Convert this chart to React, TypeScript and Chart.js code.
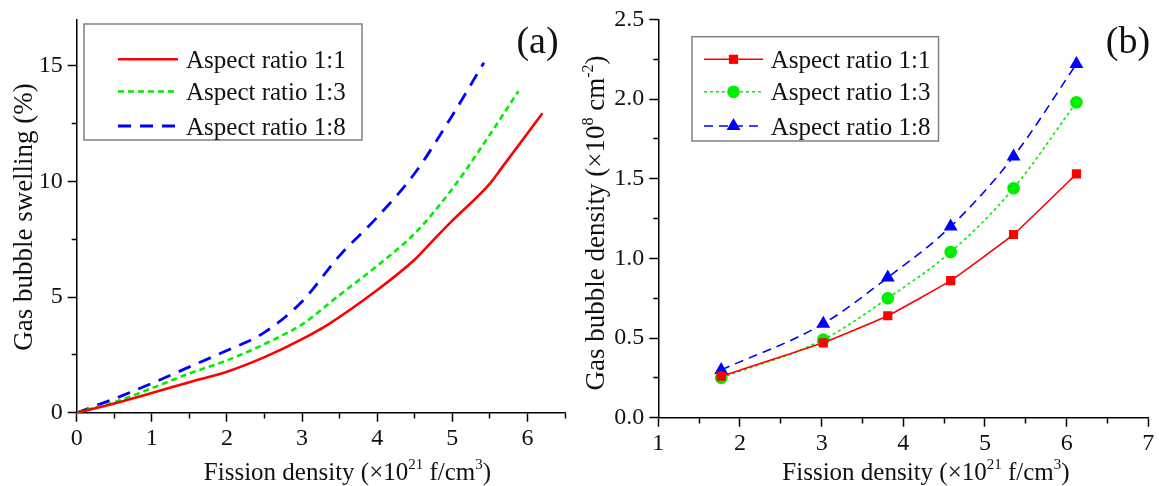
import React, { useEffect, useRef } from 'react';
import { Chart, registerables } from 'chart.js';

Chart.register(...registerables);

const FONT = '"Liberation Serif", "Times New Roman", Times, "DejaVu Serif", serif';

// ---------- Panel (a): gas bubble swelling ----------
const fissionA11 = [0, 0.5, 1, 1.5, 2, 2.5, 3, 3.35, 4, 4.5, 4.7, 5, 5.5, 5.65, 6.2];
const swelling11 = [0, 0.4, 0.85, 1.32, 1.77, 2.4, 3.18, 3.82, 5.3, 6.62, 7.3, 8.3, 9.9, 10.55, 12.94];
const fissionA13 = [0, 0.5, 1, 1.5, 2, 2.5, 3, 3.5, 4, 4.5, 5, 5.5, 5.88];
const swelling13 = [0, 0.45, 1.06, 1.7, 2.26, 2.97, 3.82, 5.09, 6.35, 7.75, 9.68, 12.02, 13.9];
const fissionA18 = [0, 0.5, 1, 1.5, 2, 2.5, 3, 3.5, 4, 4.5, 5, 5.42];
const swelling18 = [0, 0.6, 1.27, 1.98, 2.69, 3.47, 4.81, 6.79, 8.45, 10.35, 12.85, 15.13];

// ---------- Panel (b): gas bubble density ----------
const fissionB = [1.77, 3.02, 3.81, 4.58, 5.35, 6.12];
const density11 = [0.26, 0.47, 0.64, 0.86, 1.15, 1.53];
const density13 = [0.25, 0.49, 0.75, 1.04, 1.44, 1.98];
const density18 = [0.3, 0.59, 0.88, 1.2, 1.64, 2.22];

const seriesLabels = ['Aspect ratio 1:1', 'Aspect ratio 1:3', 'Aspect ratio 1:8'];

// tick labels
const xLabelsA = [0, 1, 2, 3, 4, 5, 6];
const yLabelsA = [0, 5, 10, 15];
const xLabelsB = [1, 2, 3, 4, 5, 6, 7];
const yLabelsB = [0, 0.5, 1, 1.5, 2, 2.5];

const RED = '#ff0000';
const GREEN = '#00ee00';
const BLUE = '#0000ff';

const pairs = (xs: number[], ys: number[]) => xs.map((x, i) => ({ x, y: ys[i] }));
const has = (arr: number[], v: number) => arr.some((a) => Math.abs(a - v) < 1e-6);

type Part = { t: string; sup?: boolean };

function drawRich(ctx: CanvasRenderingContext2D, parts: Part[], cx: number, cy: number, size: number, rotate: boolean) {
  ctx.save();
  ctx.translate(cx, cy);
  if (rotate) ctx.rotate(-Math.PI / 2);
  ctx.fillStyle = '#111';
  ctx.textAlign = 'left';
  ctx.textBaseline = 'alphabetic';
  let total = 0;
  const widths: number[] = [];
  for (const p of parts) {
    ctx.font = `${p.sup ? Math.round(size * 0.6) : size}px ${FONT}`;
    const w = ctx.measureText(p.t).width;
    widths.push(w);
    total += w;
  }
  let x = -total / 2;
  const base = size * 0.33;
  parts.forEach((p, i) => {
    ctx.font = `${p.sup ? Math.round(size * 0.6) : size}px ${FONT}`;
    ctx.fillText(p.t, x, p.sup ? base - size * 0.42 : base);
    x += widths[i];
  });
  ctx.restore();
}

type Overlay = {
  box: [number, number, number, number];
  rows: number[];
  lineX: [number, number];
  textX: number;
  xTitle: Part[];
  xTitlePos: [number, number];
  yTitle: Part[];
  yTitlePos: [number, number];
  label: string;
  labelPos: [number, number];
};

function makeOverlay(o: Overlay) {
  return {
    id: 'overlay',
    afterDraw(chart: any) {
      const ctx: CanvasRenderingContext2D = chart.ctx;
      ctx.save();
      ctx.strokeStyle = '#808080';
      ctx.lineWidth = 1.5;
      ctx.setLineDash([]);
      const [bx1, by1, bx2, by2] = o.box;
      ctx.strokeRect(bx1, by1, bx2 - bx1, by2 - by1);
      chart.data.datasets.forEach((ds: any, i: number) => {
        const y = o.rows[i];
        ctx.strokeStyle = ds.borderColor;
        ctx.lineWidth = ds.borderWidth;
        ctx.setLineDash(ds.borderDash || []);
        ctx.beginPath();
        ctx.moveTo(o.lineX[0], y);
        ctx.lineTo(o.lineX[1], y);
        ctx.stroke();
        ctx.setLineDash([]);
        if (ds.pointRadius > 0) {
          const cx = (o.lineX[0] + o.lineX[1]) / 2;
          const r = ds.pointRadius;
          ctx.fillStyle = ds.pointBackgroundColor;
          ctx.beginPath();
          if (ds.pointStyle === 'rect') {
            const s = r * Math.SQRT1_2;
            ctx.rect(cx - s, y - s, 2 * s, 2 * s);
          } else if (ds.pointStyle === 'triangle') {
            ctx.moveTo(cx, y - r);
            ctx.lineTo(cx + r * 0.866, y + r * 0.5);
            ctx.lineTo(cx - r * 0.866, y + r * 0.5);
            ctx.closePath();
          } else {
            ctx.arc(cx, y, r, 0, Math.PI * 2);
          }
          ctx.fill();
        }
        ctx.fillStyle = '#111';
        ctx.font = `25px ${FONT}`;
        ctx.textAlign = 'left';
        ctx.textBaseline = 'alphabetic';
        ctx.fillText(ds.label, o.textX, y + 8.7);
      });
      drawRich(ctx, o.xTitle, o.xTitlePos[0], o.xTitlePos[1], 25, false);
      drawRich(ctx, o.yTitle, o.yTitlePos[0], o.yTitlePos[1], 27, true);
      ctx.fillStyle = '#111';
      ctx.font = `38px ${FONT}`;
      ctx.textAlign = 'center';
      ctx.textBaseline = 'alphabetic';
      ctx.fillText(o.label, o.labelPos[0], o.labelPos[1]);
      ctx.restore();
    },
  };
}

function axisOpts(min: number, max: number, step: number, labels: number[], fmt: (v: number) => string, vertical: boolean, size: number) {
  return {
    type: 'linear',
    min,
    max,
    afterBuildTicks: (scale: any) => {
      scale.ticks = scale.ticks.filter((t: any) => Math.abs(t.value / step - Math.round(t.value / step)) < 1e-6);
    },
    afterFit: (scale: any) => {
      if (vertical) scale.width = size;
      else scale.height = size;
    },
    border: { display: true, color: '#000', width: 1.5 },
    grid: {
      display: true,
      drawOnChartArea: false,
      drawTicks: true,
      tickLength: 9,
      tickWidth: 1.5,
      tickColor: '#000',
      tickBorderDash: (c: any) => {
        const v = c.tick ? c.tick.value : 0;
        if (has(labels, v)) return [];
        return vertical ? [0, 4, 5, 100] : [5, 100];
      },
    },
    ticks: {
      stepSize: step,
      autoSkip: false,
      maxRotation: 0,
      padding: vertical ? 5 : 3,
      color: '#111',
      font: { family: FONT, size: 24 },
      callback: (v: number) => (has(labels, v) ? fmt(v) : ''),
    },
  };
}

function useChart(ref: React.RefObject<HTMLCanvasElement>, build: () => any) {
  useEffect(() => {
    if (!ref.current) return;
    const chart = new Chart(ref.current, build());
    return () => chart.destroy();
  }, []);
}

export default function App() {
  const refA = useRef<HTMLCanvasElement>(null);
  const refB = useRef<HTMLCanvasElement>(null);

  useChart(refA, () => ({
    type: 'line',
    data: {
      datasets: [
        { label: seriesLabels[0], data: pairs(fissionA11, swelling11), borderColor: RED, borderWidth: 2.6, borderDash: [], pointRadius: 0, cubicInterpolationMode: 'monotone' },
        { label: seriesLabels[1], data: pairs(fissionA13, swelling13), borderColor: GREEN, borderWidth: 2.6, borderDash: [6, 4], pointRadius: 0, cubicInterpolationMode: 'monotone' },
        { label: seriesLabels[2], data: pairs(fissionA18, swelling18), borderColor: BLUE, borderWidth: 2.8, borderDash: [13, 9], pointRadius: 0, cubicInterpolationMode: 'monotone' },
      ],
    },
    options: {
      responsive: false,
      animation: false,
      events: [],
      layout: { padding: { top: 13.2, right: 15, left: 0, bottom: 0 } },
      plugins: { legend: { display: false }, tooltip: { enabled: false }, title: { display: false } },
      scales: {
        x: axisOpts(0, 6.5, 0.5, xLabelsA, (v) => String(v), false, 73.3),
        y: axisOpts(0, 17, 2.5, yLabelsA, (v) => String(v), true, 76.7),
      },
    },
    plugins: [
      makeOverlay({
        box: [84, 24, 362, 140],
        rows: [59.3, 91.5, 126],
        lineX: [118, 178],
        textX: 186,
        xTitle: [{ t: 'Fission density (\u00d710' }, { t: '21', sup: true }, { t: ' f/cm' }, { t: '3', sup: true }, { t: ')' }],
        xTitlePos: [347.5, 471.5],
        yTitle: [{ t: 'Gas bubble swelling (%)' }],
        yTitlePos: [23, 217],
        label: '(a)',
        labelPos: [537.5, 53],
      }),
    ],
  }));

  useChart(refB, () => ({
    type: 'line',
    data: {
      datasets: [
        { label: seriesLabels[0], data: pairs(fissionB, density11), borderColor: RED, borderWidth: 1.6, borderDash: [], pointStyle: 'rect', pointRadius: 6.5, pointBackgroundColor: RED, pointBorderWidth: 0, tension: 0.1 },
        { label: seriesLabels[1], data: pairs(fissionB, density13), borderColor: GREEN, borderWidth: 1.6, borderDash: [3, 3], pointStyle: 'circle', pointRadius: 6.3, pointBackgroundColor: GREEN, pointBorderWidth: 0, cubicInterpolationMode: 'monotone' },
        { label: seriesLabels[2], data: pairs(fissionB, density18), borderColor: BLUE, borderWidth: 1.6, borderDash: [9, 6], pointStyle: 'triangle', pointRadius: 8, pointBackgroundColor: BLUE, pointBorderWidth: 0, cubicInterpolationMode: 'monotone' },
      ],
    },
    options: {
      responsive: false,
      animation: false,
      events: [],
      layout: { padding: { top: 18.3, right: 10.7, left: 0, bottom: 0 } },
      plugins: { legend: { display: false }, tooltip: { enabled: false }, title: { display: false } },
      scales: {
        x: axisOpts(1, 7, 0.5, xLabelsB, (v) => String(v), false, 68.3),
        y: axisOpts(0, 2.5, 0.25, yLabelsB, (v) => v.toFixed(1), true, 78.3),
      },
    },
    plugins: [
      makeOverlay({
        box: [112, 36.7, 358.5, 141],
        rows: [59.3, 91.7, 126],
        lineX: [124, 183],
        textX: 190.7,
        xTitle: [{ t: 'Fission density (\u00d710' }, { t: '21', sup: true }, { t: ' f/cm' }, { t: '3', sup: true }, { t: ')' }],
        xTitlePos: [346, 471.5],
        yTitle: [{ t: 'Gas bubble density (\u00d710' }, { t: '8', sup: true }, { t: ' cm' }, { t: '-2', sup: true }, { t: ')' }],
        yTitlePos: [15, 223],
        label: '(b)',
        labelPos: [548, 53],
      }),
    ],
  }));

  return (
    <div style={{ position: 'absolute', left: 0, top: 0, width: 1159, height: 486, background: '#fff' }}>
      <canvas ref={refA} width={580} height={486} style={{ position: 'absolute', left: 0, top: 0, display: 'block' }} />
      <canvas ref={refB} width={579} height={486} style={{ position: 'absolute', left: 580, top: 0, display: 'block' }} />
    </div>
  );
}
